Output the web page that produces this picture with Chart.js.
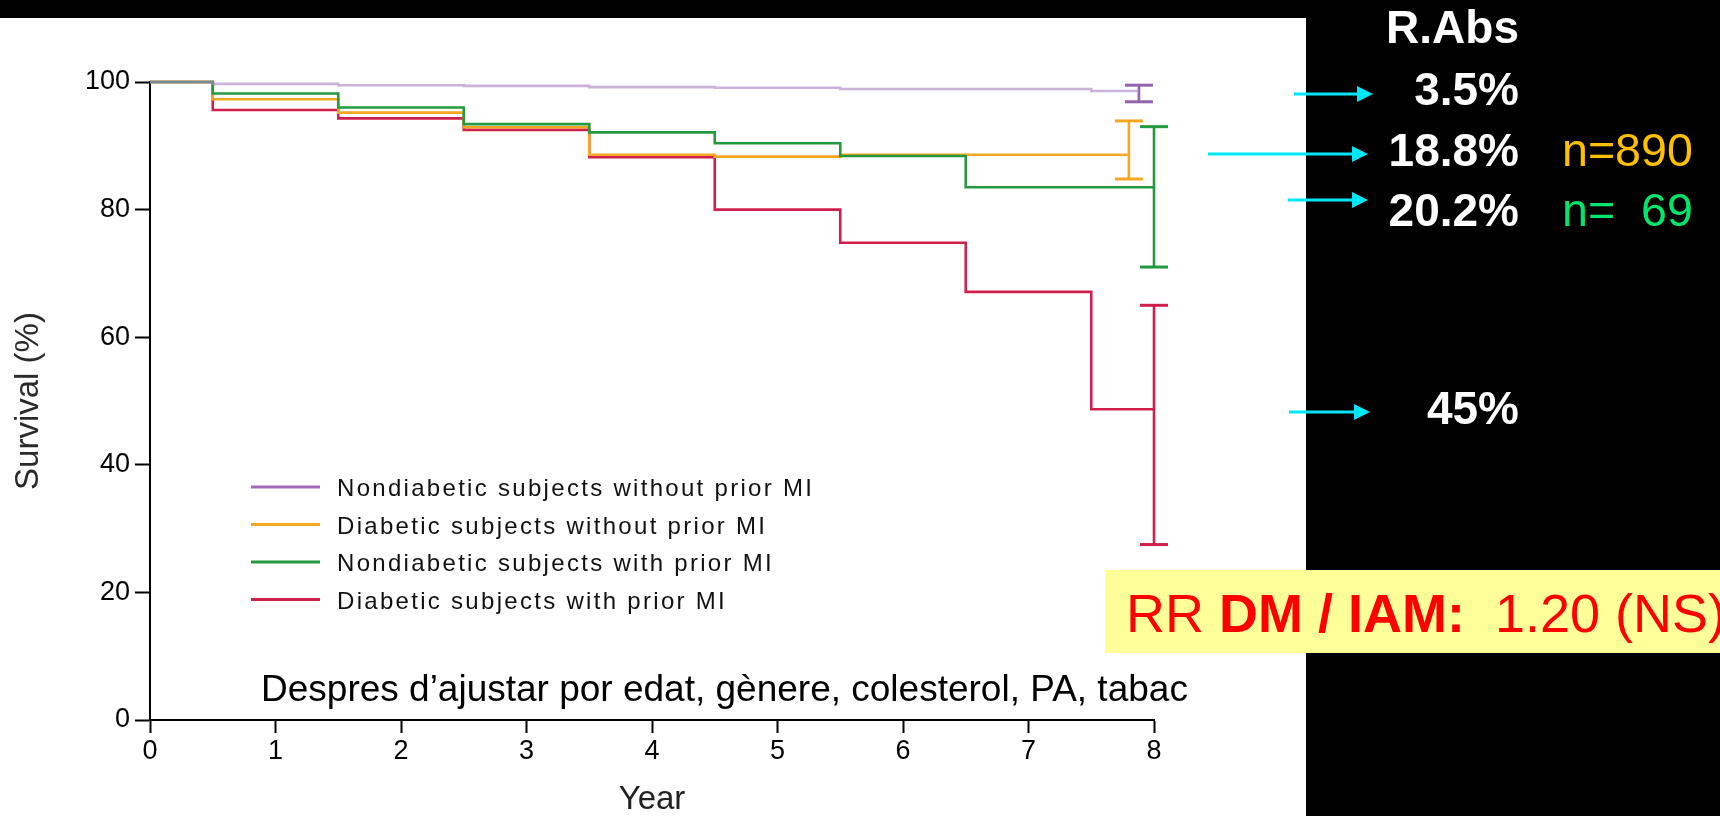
<!DOCTYPE html>
<html>
<head>
<meta charset="utf-8">
<script src="https://cdn.jsdelivr.net/npm/chart.js@4"></script>
<style>
    html, body { margin: 0; padding: 0; background: #000; overflow: hidden; }
    #wrap { position: relative; width: 1720px; height: 816px; }
    #panel { position: absolute; left: 0; top: 18px; width: 1306px; height: 798px; background: #fff; }
    #chart, #overlay { position: absolute; left: 0; top: 0; }
    #overlay text { font-family: "Liberation Sans", Arial, sans-serif; white-space: pre; }
</style>
</head>
<body>
<div id="wrap">
    <div id="panel"></div>
    <canvas id="chart" width="1720" height="816"></canvas>
    <svg id="overlay" width="1720" height="816" xmlns="http://www.w3.org/2000/svg"></svg>
</div>
<script>
// step times (years) shared by all curves, last value is held to each curve's end
const stepYears = [0, 0.5, 1.5, 2.5, 3.5, 4.5, 5.5, 6.5, 7.5];
const endYears = [7.88, 7.8, 8, 8];

const groupLabels = [
    "Nondiabetic subjects without prior MI",
    "Diabetic subjects without prior MI",
    "Nondiabetic subjects with prior MI",
    "Diabetic subjects with prior MI",
];

// survival (%) at each step time, then at end of follow-up
const nondmNoMi = [100, 99.7, 99.5, 99.4, 99.2, 99.1, 98.9, 98.9, 98.6, 98.6];
const dmNoMi = [100, 97.3, 95.2, 92.9, 88.6, 88.3, 88.6, 88.6, 88.6, 88.6];
const nondmMi = [100, 98.2, 96.0, 93.4, 92.1, 90.4, 88.4, 83.5, 83.5, 83.5];
const dmMi = [100, 95.6, 94.3, 92.5, 88.2, 80.0, 74.8, 67.1, 48.7, 48.7];

// confidence interval at end of follow-up
const ciUpper = [99.5, 93.9, 93.0, 65.0];
const ciLower = [96.9, 84.8, 71.0, 27.5];

const xTicks = [0, 1, 2, 3, 4, 5, 6, 7, 8];
const yTicks = [0, 20, 40, 60, 80, 100];

const absRisk = ["3.5%", "18.8%", "20.2%", "45%"];
const groupN = ["n=890", "n=  69"];

const curveColors = ["rgba(170,130,200,0.62)", "#f5a623", "#24993f", "#d11f4b"];
const ciColors = ["#9463ab", "#f5a623", "#24993f", "#d11f4b"];
const legendColors = ["#a06ab8", "#f5a623", "#24993f", "#d11f4b"];

const FONT = "'Liberation Sans', Arial, sans-serif";
Chart.defaults.font.family = FONT;

function curvePoints(values, endYear) {
    const pts = stepYears.map((x, i) => ({ x, y: values[i] }));
    pts.push({ x: endYear, y: values[values.length - 1] });
    return pts;
}

const series = [nondmNoMi, dmNoMi, nondmMi, dmMi];
// drawing order: purple on top, then green, orange, red
const drawOrder = [0, 2, 1, 3];

const datasets = [];
series.forEach((values, i) => {
    datasets.push({
        label: groupLabels[i],
        data: curvePoints(values, endYears[i]),
        borderColor: curveColors[i],
        borderWidth: 2.6,
        stepped: true,
        showLine: true,
        pointRadius: 0,
        clip: false,
        order: drawOrder[i],
    });
    datasets.push({
        label: groupLabels[i] + " CI",
        data: [
            { x: endYears[i], y: ciUpper[i] },
            { x: endYears[i], y: ciLower[i] },
        ],
        borderColor: ciColors[i],
        borderWidth: 2.6,
        showLine: true,
        pointStyle: "line",
        pointRadius: 14,
        pointBorderWidth: 3,
        pointBorderColor: ciColors[i],
        clip: false,
        order: drawOrder[i],
    });
});

new Chart(document.getElementById("chart"), {
    type: "scatter",
    data: { datasets },
    options: {
        responsive: false,
        animation: false,
        events: [],
        layout: { padding: { left: 0, right: 566, top: 82, bottom: 0 } },
        plugins: { legend: { display: false }, tooltip: { enabled: false } },
        scales: {
            x: {
                type: "linear",
                min: 0,
                max: 8,
                afterFit: (scale) => { scale.height = 96; },
                afterBuildTicks: (scale) => { scale.ticks = xTicks.map((v) => ({ value: v })); },
                ticks: { font: { size: 27 }, color: "#000", padding: 2 },
                grid: { drawOnChartArea: false, drawTicks: true, tickLength: 13, tickColor: "#000", tickWidth: 2 },
                border: { color: "#000", width: 2 },
                title: {
                    display: true,
                    text: "Year",
                    color: "#222",
                    font: { size: 33, lineHeight: 1 },
                    padding: { top: 0, bottom: 0 },
                },
            },
            y: {
                min: 0,
                max: 100,
                afterFit: (scale) => { scale.width = 150; },
                afterBuildTicks: (scale) => { scale.ticks = yTicks.map((v) => ({ value: v })); },
                ticks: { font: { size: 27 }, color: "#000", padding: 5 },
                grid: { drawOnChartArea: false, drawTicks: true, tickLength: 15, tickColor: "#000", tickWidth: 2 },
                border: { color: "#000", width: 2 },
                title: {
                    display: true,
                    text: "Survival (%)",
                    color: "#2a2a2a",
                    font: { size: 33, lineHeight: 1 },
                    padding: { top: 12, bottom: 0 },
                },
            },
        },
    },
});

// overlay: legend, notes and the right-hand annotations
const svg = document.getElementById("overlay");
const NS = "http://www.w3.org/2000/svg";

function add(tag, attrs, text) {
    const el = document.createElementNS(NS, tag);
    for (const k in attrs) el.setAttribute(k, attrs[k]);
    if (text !== undefined) el.textContent = text;
    svg.appendChild(el);
    return el;
}

groupLabels.forEach((label, i) => {
    const cy = 487 + 37.5 * i;
    add("line", { x1: 251, x2: 320, y1: cy, y2: cy, stroke: legendColors[i], "stroke-width": 3 });
    add("text", { x: 337, y: cy + 9, "font-size": 24, "letter-spacing": 2.3, fill: "#111" }, label);
});

add("text", { x: 261, y: 701, "font-size": 37, fill: "#000" },
    "Despres d\u2019ajustar por edat, g\u00e8nere, colesterol, PA, tabac");

// right-hand column
add("text", { x: 1519, y: 43, "font-size": 46, "font-weight": "bold", fill: "#fff", "text-anchor": "end" }, "R.Abs");
const riskBaselines = [105, 166, 226, 424];
absRisk.forEach((t, i) => {
    add("text", { x: 1519, y: riskBaselines[i], "font-size": 46, "font-weight": "bold", fill: "#fff", "text-anchor": "end" }, t);
});
const nColors = ["#ffc000", "#00e56b"];
groupN.forEach((t, i) => {
    add("text", { x: 1562, y: riskBaselines[i + 1], "font-size": 46.6, fill: nColors[i] }, t);
});

const arrows = [[1294, 1373, 94], [1208, 1368, 154], [1288, 1368, 200], [1289, 1370, 412]];
arrows.forEach(([x1, x2, y]) => {
    add("line", { x1, x2: x2 - 14, y1: y, y2: y, stroke: "#00e8f8", "stroke-width": 3 });
    add("polygon", { points: `${x2 - 16},${y - 8} ${x2},${y} ${x2 - 16},${y + 8}`, fill: "#00e8f8" });
});

add("rect", { x: 1105, y: 570, width: 615, height: 83, fill: "#ffff99" });
const rr = add("text", { x: 1126, y: 632, "font-size": 54, fill: "#ff0000" });
[["RR ", "normal"], ["DM / IAM:", "bold"], ["  1.20 (NS)", "normal"]].forEach(([t, w]) => {
    const ts = document.createElementNS(NS, "tspan");
    ts.setAttribute("font-weight", w);
    ts.textContent = t;
    rr.appendChild(ts);
});
</script>
</body>
</html>
